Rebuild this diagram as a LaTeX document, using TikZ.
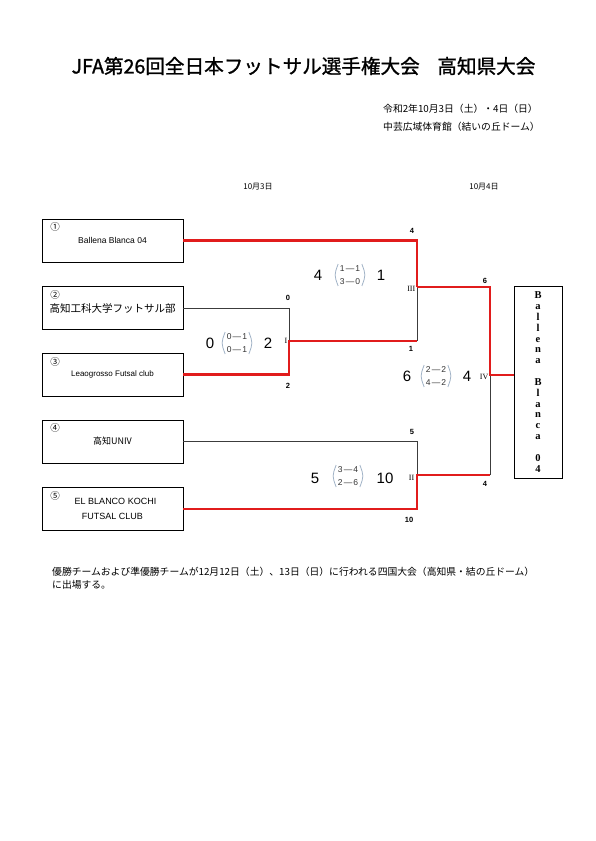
\documentclass[tikz,border=0pt]{standalone}
\usepackage{fontspec}
\setmainfont{Liberation Sans}
\newfontfamily\jp{Noto Sans CJK JP}
\newfontfamily\jpb{Noto Sans CJK JP}[FakeBold=1.2]
\newfontfamily\srf{Liberation Serif}
\definecolor{winred}{RGB}{225,28,28}
\definecolor{losegray}{RGB}{60,60,60}
\definecolor{parenc}{RGB}{160,178,198}
\newcommand{\dsh}{\kern1.2pt—\kern1.2pt}
\begin{document}
\begin{tikzpicture}[x=1pt,y=-1pt,
  team/.style={draw, line width=0.9pt, minimum width=141pt, minimum height=43pt, inner sep=1pt, align=center},
  cnum/.style={font=\jp\fontsize{9.5}{10}\selectfont, inner sep=0pt},
  win/.style={draw=winred, line width=2.8pt, line join=miter},
  lose/.style={draw=losegray, line width=0.9pt},
  lab/.style={font=\bfseries\fontsize{7.5}{9}\selectfont, inner sep=0pt},
  rom/.style={font=\srf\fontsize{8}{9}\selectfont, inner sep=0pt, anchor=east},
  big/.style={font=\fontsize{15}{17}\selectfont, inner sep=0pt},
  sc/.style={font=\fontsize{8.5}{12.5}\selectfont, align=center, inner sep=1.5pt, text=black!80},
  paren/.style={draw=parenc, line width=0.8pt},
  small/.style={font=\jp\fontsize{9.8}{14}\selectfont, inner sep=0pt, align=left}
]
\useasboundingbox[fill=white] (0,0) rectangle (595,841);

% title and header
\node[font=\jpb\fontsize{19.6}{22}\selectfont, inner sep=0pt] (title) at (303.5,66)
  {JFA第26回全日本フットサル選手権大会\hspace{0.9em}高知県大会};
\node[small, anchor=west] (date) at (383,109) {令和2年10月3日（土）・4日（日）};
\node[small, anchor=west] (venue) at (383,127) {中芸広域体育館（結いの丘ドーム）};
\node[small, font=\jp\fontsize{8}{9}\selectfont] (d1) at (258,187) {10月3日};
\node[small, font=\jp\fontsize{8}{9}\selectfont] (d2) at (484,187) {10月4日};

% teams
\node[team, font=\fontsize{8.5}{10}\selectfont] (t1) at (112.5,240.5) {Ballena Blanca 04};
\node[team, font=\jp\fontsize{10.5}{12}\selectfont] (t2) at (112.5,308) {\raisebox{-3pt}{高知工科大学フットサル部}};
\node[team, font=\fontsize{8}{10}\selectfont] (t3) at (112.5,374.5) {\raisebox{-2pt}{Leaogrosso Futsal club}};
\node[team, font=\jp\fontsize{9}{10}\selectfont] (t4) at (112.5,441.5) {高知UNIV};
\node[team, font=\fontsize{9}{15.5}\selectfont] (t5) at (112.5,509) {\hspace{6pt}EL BLANCO KOCHI\\FUTSAL CLUB};
\node[cnum] (n1) at (55,227) {①};
\node[cnum] (n2) at (55,295) {②};
\node[cnum] (n3) at (55,362) {③};
\node[cnum] (n4) at (55,428) {④};
\node[cnum] (n5) at (55,496) {⑤};

% champion
\node[draw, line width=0.9pt, minimum width=48pt, minimum height=192pt, inner sep=0pt,
  align=center, font=\srf\bfseries\fontsize{10.5}{10.85}\selectfont] (champ) at (538,382)
  {B\\a\\l\\l\\e\\n\\a\\\mbox{}\\B\\l\\a\\n\\c\\a\\\mbox{}\\0\\4};

% junctions
\coordinate (m1) at (289,341);
\coordinate (m3) at (417,287);
\coordinate (c13) at (417,341);
\coordinate (m2) at (417,475);
\coordinate (m4) at (490,375);
\coordinate (c24) at (490,475);

% connectors
\draw[lose] (t2.east) -| (m1);
\draw[lose] (c13) -- (m3);
\draw[lose] (t4.east) -| (m2);
\draw[lose] (c24) -- (m4);
\draw[win] (t1.east) -| (m3);
\draw[win] (t3.east) -| (m1) -- (c13);
\draw[win] (t5.east) -| (m2) -- (c24);
\draw[win] (m3) -| (m4) -- (m4 -| champ.west);

% goal labels
\node[lab] (g1) at (412,231) {4};
\node[lab] (g2) at (288,298) {0};
\node[lab] (g3) at (288,386) {2};
\node[lab] (g4) at (411,349) {1};
\node[lab] (g5) at (485,281) {6};
\node[lab] (g6) at (412,432) {5};
\node[lab] (g7) at (409,520) {10};
\node[lab] (g8) at (485,484) {4};

% round numerals
\node[rom] (r1) at (287.5,341) {I};
\node[rom] (r3) at (415.5,289) {III};
\node[rom] (r4) at (488.5,377) {IV};
\node[rom] (r2) at (414.5,478) {II};

% scores
\node[big] (s1a) at (210,343) {0};
\node[sc] (s1) at (237,343) {0\dsh1\\0\dsh1};
\node[big] (s1b) at (268,343) {2};
\node[big] (s3a) at (318,275) {4};
\node[sc] (s3) at (350,275) {1\dsh1\\3\dsh0};
\node[big] (s3b) at (381,275) {1};
\node[big] (s4a) at (407,376) {6};
\node[sc] (s4) at (436,376) {2\dsh2\\4\dsh2};
\node[big] (s4b) at (467,376) {4};
\node[big] (s2a) at (315,478) {5};
\node[sc] (s2) at (348,476) {3\dsh4\\2\dsh6};
\node[big] (s2b) at (385,478) {10};
\foreach \s in {s1,s2,s3,s4}{
  \draw[paren] (\s.north west) .. controls ([xshift=-4pt]\s.west) .. (\s.south west);
  \draw[paren] (\s.north east) .. controls ([xshift=4pt]\s.east) .. (\s.south east);
}

% note
\node[small, anchor=north west, font=\jp\fontsize{9.8}{12.5}\selectfont] (note) at (52,567)
  {優勝チームおよび準優勝チームが12月12日（土）、13日（日）に行われる四国大会（高知県・結の丘ドーム）\\に出場する。};
\end{tikzpicture}
\end{document}
